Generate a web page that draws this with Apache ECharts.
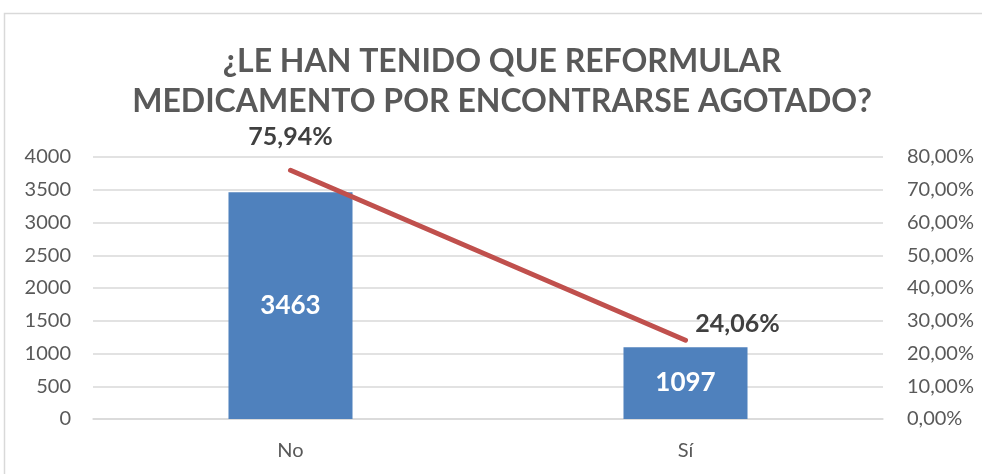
<!DOCTYPE html>
<html><head><meta charset="utf-8">
<script src="https://cdn.jsdelivr.net/npm/echarts@6/dist/echarts.min.js"></script>
<style>html,body{margin:0;padding:0;background:#fff}#c{width:982px;height:474px}</style>
</head><body><div id="c"></div>
<script>
const titleLines = ['¿LE HAN TENIDO QUE REFORMULAR', 'MEDICAMENTO POR ENCONTRARSE AGOTADO?'];
const categories = ['No', 'Sí'];
const counts = [3463, 1097];
const percents = [75.94, 24.06];
const leftTicks = {min: 0, max: 4000, interval: 500};
const rightTicks = {min: 0, max: 80, interval: 10};

const FONT = 'Lato';
const chart = echarts.init(document.getElementById('c'));
const pctLabelShift = [[0, -15], [52, 2]];
chart.setOption({
  animation: false,
  backgroundColor: '#fff',
  graphic: [{type: 'rect', shape: {x: 4.5, y: 13.5, width: 1000, height: 500}, style: {fill: 'none', stroke: '#d9d9d9', lineWidth: 1.5}, z: -1}],
  title: {
    text: titleLines.join('\n'), left: 497, textAlign: 'center', top: 37,
    textStyle: {fontFamily: FONT, fontWeight: 'bold', fontSize: 32, color: '#595959', lineHeight: 40}
  },
  grid: {left: 93, right: 99, top: 157, bottom: 55},
  xAxis: {
    type: 'category', data: categories,
    axisLine: {show: true, lineStyle: {color: '#d9d9d9', width: 1.5}},
    axisTick: {show: false},
    axisLabel: {fontFamily: FONT, fontSize: 20, color: '#595959', margin: 22}
  },
  yAxis: [
    {type: 'value', min: leftTicks.min, max: leftTicks.max, interval: leftTicks.interval,
     axisLine: {show: false}, axisTick: {show: false},
     splitLine: {lineStyle: {color: '#d9d9d9', width: 1.5}},
     axisLabel: {fontFamily: FONT, fontSize: 20, color: '#595959', margin: 22, formatter: v => String(v)}},
    {type: 'value', min: rightTicks.min, max: rightTicks.max, interval: rightTicks.interval,
     axisLine: {show: false}, axisTick: {show: false}, splitLine: {show: false},
     axisLabel: {fontFamily: FONT, fontSize: 20, color: '#595959', margin: 24,
       formatter: v => v.toFixed(2).replace('.', ',') + '%'}}
  ],
  series: [
    {type: 'bar', data: counts, barWidth: '31.4%', itemStyle: {color: '#4F81BD'},
     label: {show: true, position: 'inside', fontFamily: FONT, fontWeight: 'bold', fontSize: 26, color: '#fff'}},
    {type: 'line', yAxisIndex: 1, symbol: 'circle', symbolSize: 2, showSymbol: true, z: 5,
     itemStyle: {color: '#C0504D'},
     lineStyle: {color: '#C0504D', width: 5, cap: 'round'},
     label: {show: true, position: 'top', fontFamily: FONT, fontWeight: 'bold', fontSize: 25, color: '#404040',
       formatter: p => p.value.toFixed(2).replace('.', ',') + '%'},
     labelLayout: p => ({hideOverlap: false, dx: pctLabelShift[p.dataIndex][0], dy: pctLabelShift[p.dataIndex][1]}),
     data: percents}
  ]
});
</script></body></html>
